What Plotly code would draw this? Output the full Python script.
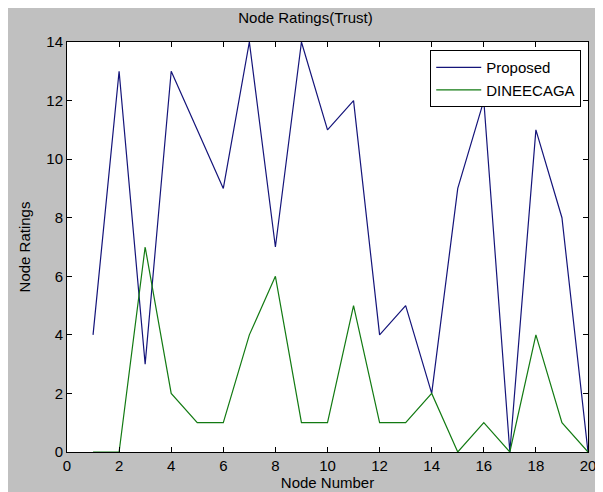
import plotly.graph_objects as go

nodes = list(range(1, 21))
proposed = [4, 13, 3, 13, 11, 9, 14, 7, 14, 11, 12, 4, 5, 2, 9, 12, 0, 11, 8, 0]
dineecaga = [0, 0, 7, 2, 1, 1, 4, 6, 1, 1, 5, 1, 1, 2, 0, 1, 0, 4, 1, 0]
x_ticks = list(range(0, 21, 2))
y_ticks = list(range(0, 15, 2))

FONT = "Liberation Sans, Arial, sans-serif"

fig = go.Figure()
fig.add_trace(go.Scatter(x=nodes, y=proposed, mode="lines", name="Proposed",
                         line=dict(color="#14147a", width=1.2)))
fig.add_trace(go.Scatter(x=nodes, y=dineecaga, mode="lines", name="DINEECAGA",
                         line=dict(color="#127a12", width=1.2)))

axis_common = dict(showgrid=False, zeroline=False, showline=True, linecolor="black",
                   linewidth=1, mirror="allticks", ticks="inside", ticklen=5,
                   tickcolor="black", automargin=False,
                   tickfont=dict(family=FONT, size=15, color="black"))

W, H = 595, 484
fig.update_layout(
    width=W, height=H,
    margin=dict(l=59, r=15, t=34, b=40),
    paper_bgcolor="#c0c0c0",
    plot_bgcolor="white",
    title=dict(text="Node Ratings(Trust)", x=0.5, xanchor="center",
               y=1 - 10 / H, yanchor="middle", yref="container",
               font=dict(family=FONT, size=15, color="black")),
    xaxis=dict(range=[0, 20], tickvals=x_ticks, ticktext=[str(v) for v in x_ticks],
               title=dict(text="Node Number", standoff=1,
                          font=dict(family=FONT, size=15, color="black")),
               **axis_common),
    yaxis=dict(range=[0, 14], tickvals=y_ticks, ticktext=[str(v) for v in y_ticks],
               title=dict(text="Node Ratings", standoff=12,
                          font=dict(family=FONT, size=15, color="black")),
               **axis_common),
    legend=dict(x=0.987, y=0.98, xanchor="right", yanchor="top",
                bgcolor="white", bordercolor="black", borderwidth=1,
                font=dict(family=FONT, size=15, color="black"),
                itemwidth=45, tracegroupgap=0),
    showlegend=True,
)

fig.write_html("out.html")
